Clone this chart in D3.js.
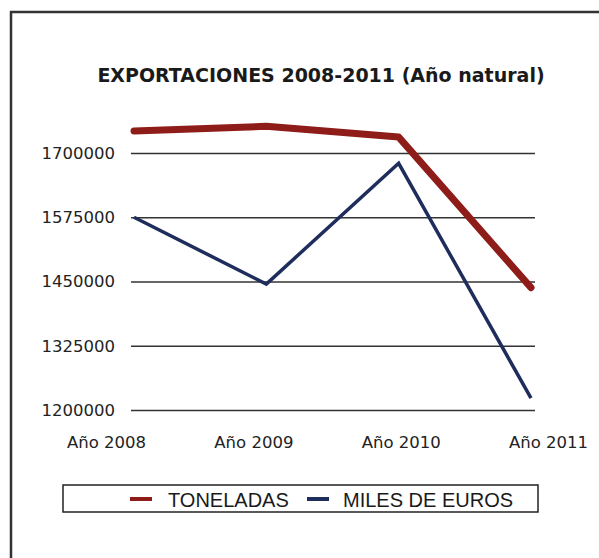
<!DOCTYPE html>
<html>
<head>
<meta charset="utf-8">
<script src="https://cdn.jsdelivr.net/npm/d3@7"></script>
<style>
  html, body { margin: 0; padding: 0; background: #fff; }
  svg { display: block; }
</style>
</head>
<body>
<script>
const categories = ["Año 2008", "Año 2009", "Año 2010", "Año 2011"];
const toneladas = [1743000, 1752000, 1731000, 1438000];
const milesDeEuros = [1575000, 1445000, 1680000, 1223000];
const yTicks = [1200000, 1325000, 1450000, 1575000, 1700000];
const seriesNames = ["TONELADAS", "MILES DE EUROS"];
const title = "EXPORTACIONES 2008-2011 (Año natural)";

const W = 599, H = 558;
const svg = d3.select("body").append("svg").attr("width", W).attr("height", H);

// outer frame (extends past the right and bottom edges)
svg.append("rect").attr("x", 11).attr("y", 12).attr("width", 620).attr("height", 600)
  .attr("fill", "#fff").attr("stroke", "#333").attr("stroke-width", 2.5);

// title
svg.append("text").attr("x", 321).attr("y", 82).attr("text-anchor", "middle")
  .attr("font-family", "DejaVu Sans").attr("font-weight", "bold").attr("font-size", 19)
  .attr("fill", "#1a1a1a").text(title);

const gridLeft = 131, gridRight = 535;
const x = d3.scalePoint().domain(categories).range([134, 531]);
const xLabels = d3.scalePoint().domain(categories).range([106, 548]);
const y = d3.scaleLinear().domain([1200000, 1700000]).range([410, 153]);

// y axis with gridlines
const yAxis = svg.append("g").attr("transform", `translate(${gridLeft},0)`)
  .call(d3.axisLeft(y).tickValues(yTicks).tickFormat(d3.format("d"))
    .tickSize(-(gridRight - gridLeft)).tickPadding(16));
yAxis.select(".domain").remove();
yAxis.selectAll(".tick line").attr("stroke", "#333").attr("stroke-width", 1.6);
yAxis.selectAll(".tick text").attr("font-family", "DejaVu Sans").attr("font-size", 16.5)
  .attr("fill", "#222");

// x axis labels
const xAxis = svg.append("g").attr("transform", "translate(0,430)")
  .call(d3.axisBottom(xLabels).tickSize(0).tickPadding(6));
xAxis.select(".domain").remove();
xAxis.selectAll(".tick text").attr("font-family", "DejaVu Sans").attr("font-size", 16.5)
  .attr("fill", "#222");

const line = d3.line().x((d, i) => x(categories[i])).y(d => y(d));

svg.append("path").datum(milesDeEuros).attr("d", line)
  .attr("fill", "none").attr("stroke", "#1f2d5c").attr("stroke-width", 3.5)
  .attr("stroke-linejoin", "miter");

svg.append("path").datum(toneladas).attr("d", line)
  .attr("fill", "none").attr("stroke", "#8e1c18").attr("stroke-width", 7)
  .attr("stroke-linejoin", "round").attr("stroke-linecap", "round");

// legend
const lg = svg.append("g");
lg.append("rect").attr("x", 63).attr("y", 485).attr("width", 475).attr("height", 27)
  .attr("fill", "#fff").attr("stroke", "#222").attr("stroke-width", 1.5);
const legendItems = [
  { name: seriesNames[0], color: "#8e1c18", sx: 130, tx: 168 },
  { name: seriesNames[1], color: "#1f2d5c", sx: 307, tx: 343 }
];
legendItems.forEach(it => {
  lg.append("line").attr("x1", it.sx).attr("x2", it.sx + 22).attr("y1", 499).attr("y2", 499)
    .attr("stroke", it.color).attr("stroke-width", 4);
  lg.append("text").attr("x", it.tx).attr("y", 506.5).attr("font-family", "Liberation Sans")
    .attr("font-size", 20).attr("fill", "#1a1a1a").text(it.name);
});
</script>
</body>
</html>
